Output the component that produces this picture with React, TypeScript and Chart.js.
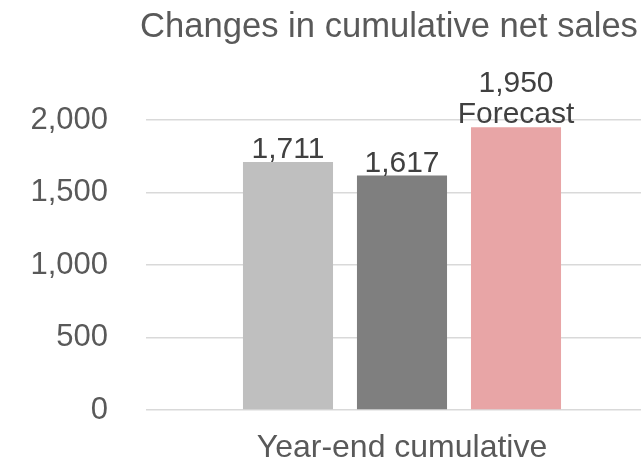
import React, { useEffect, useRef } from "react";
import { Chart, registerables } from "chart.js";

Chart.register(...registerables);

const titleText = "Changes in cumulative net sales";
const categories = ["Year-end cumulative"];
const seriesNames = ["Previous year", "Current year", "Forecast"];
const seriesValues = [1711, 1617, 1950];
const seriesNotes = ["", "", "Forecast"];
const seriesColors = ["#BFBFBF", "#7F7F7F", "#E8A5A6"];
const yTicks = [0, 500, 1000, 1500, 2000];

const FONT = "'Liberation Sans', Arial, sans-serif";

const labelPlugin = {
  id: "barLabels",
  afterDatasetsDraw(chart: any) {
    const ctx = chart.ctx;
    ctx.save();
    ctx.font = `30px ${FONT}`;
    ctx.fillStyle = "#404040";
    ctx.textAlign = "center";
    ctx.textBaseline = "alphabetic";
    chart.data.datasets.forEach((ds: any, i: number) => {
      const meta = chart.getDatasetMeta(i);
      meta.data.forEach((bar: any, j: number) => {
        const v = ds.data[j] as number;
        const lines = [v.toLocaleString("en-US")];
        if (seriesNotes[i]) lines.push(seriesNotes[i]);
        const lh = 31;
        let y = bar.y - 4;
        for (let k = lines.length - 1; k >= 0; k--) {
          ctx.fillText(lines[k], bar.x, y);
          y -= lh;
        }
      });
    });
    ctx.restore();
  },
};

const titlePlugin = {
  id: "chartTitle",
  afterDraw(chart: any) {
    const ctx = chart.ctx;
    ctx.save();
    ctx.font = `34.6px ${FONT}`;
    ctx.fillStyle = "#595959";
    ctx.textAlign = "center";
    ctx.textBaseline = "middle";
    const area = chart.chartArea;
    const cx = (area.left + area.right) / 2 - 13;
    ctx.fillText(titleText, cx, 27);
    ctx.restore();
  },
};

export default function App() {
  const ref = useRef<HTMLCanvasElement>(null);
  useEffect(() => {
    if (!ref.current) return;
    const chart = new Chart(ref.current, {
      type: "bar",
      data: {
        labels: categories,
        datasets: seriesNames.map((name, i) => ({
          label: name,
          data: [seriesValues[i]],
          backgroundColor: seriesColors[i],
          borderWidth: 0,
          categoryPercentage: 0.668,
          barPercentage: 0.79,
        })),
      },
      options: {
        animation: false,
        responsive: false,
        devicePixelRatio: 1,
        layout: { padding: { left: 0, right: 0, top: 120, bottom: 0 } },
        plugins: {
          legend: { display: false },
          tooltip: { enabled: false },
          title: { display: false },
        },
        scales: {
          x: {
            grid: { display: false, drawTicks: false },
            border: { display: false },
            ticks: {
              color: "#595959",
              font: { family: FONT, size: 32 },
              padding: 19,
            },
            afterFit: (s: any) => {
              s.height = 52;
            },
          },
          y: {
            min: 0,
            max: 2000,
            afterBuildTicks: (s: any) => {
              s.ticks = yTicks.map((v) => ({ value: v }));
            },
            grid: {
              color: "#D9D9D9",
              lineWidth: 1.5,
              drawTicks: true,
              tickLength: 38,
              tickColor: "rgba(0,0,0,0)",
            },
            border: { display: false },
            ticks: {
              color: "#595959",
              font: { family: FONT, size: 31 },
              padding: 0,
              callback: (v: any) => Number(v).toLocaleString("en-US"),
            },
            afterFit: (s: any) => {
              s.width = 146;
            },
          },
        },
      },
      plugins: [labelPlugin, titlePlugin],
    });
    return () => chart.destroy();
  }, []);
  return (
    <div
      style={{
        position: "fixed",
        left: 0,
        top: 0,
        width: 641,
        height: 462,
        overflow: "hidden",
        background: "#fff",
      }}
    >
      <canvas ref={ref} width={658} height={462} style={{ display: "block" }} />
    </div>
  );
}
